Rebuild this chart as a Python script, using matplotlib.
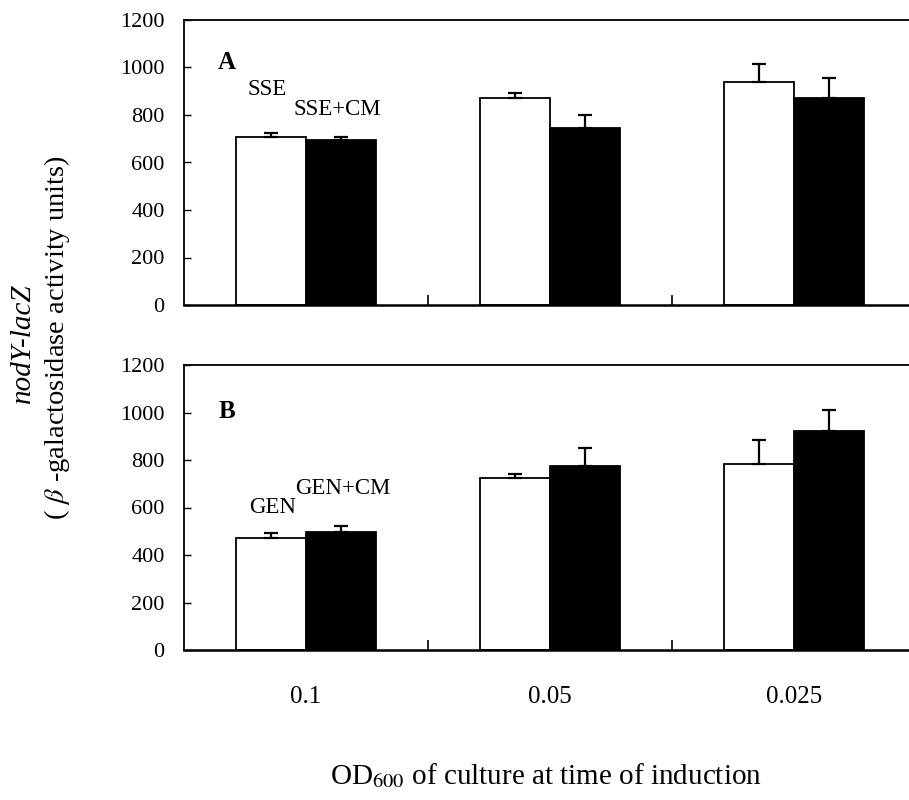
import matplotlib
matplotlib.use("Agg")
import matplotlib.pyplot as plt
import numpy as np

plt.rcParams['font.family'] = ['Liberation Serif', 'DejaVu Serif']
plt.rcParams['mathtext.fontset'] = 'stix'

# OD600 at time of induction
od_labels = ['0.1', '0.05', '0.025']

# panel A: SSE vs SSE+CM
sse = [708, 870, 938]
sse_err = [17, 21, 75]
sse_cm = [695, 744, 870]
sse_cm_err = [11, 56, 85]

# panel B: GEN vs GEN+CM
gen = [470, 723, 782]
gen_err = [24, 17, 102]
gen_cm = [498, 775, 923]
gen_cm_err = [25, 74, 88]

fig = plt.figure(figsize=(9.09, 8), dpi=100)
axA = fig.add_axes([0.2024, 0.61875, 0.8053, 0.35625])
axB = fig.add_axes([0.2024, 0.1875, 0.8053, 0.35625])

x = np.arange(len(od_labels))
w = 0.287


def draw_panel(ax, v1, e1, v2, e2, letter, lab1, lab2, lab_pos):
    ax.bar(x - w / 2, v1, w, color='white', edgecolor='black', linewidth=1.3, zorder=2)
    ax.bar(x + w / 2, v2, w, color='black', edgecolor='black', linewidth=1.3, zorder=2)
    ax.errorbar(x - w / 2, v1, yerr=[np.zeros(len(v1)), e1], fmt='none',
                ecolor='black', elinewidth=1.6, capsize=4.8, capthick=1.6, zorder=3)
    ax.errorbar(x + w / 2, v2, yerr=[np.zeros(len(v2)), e2], fmt='none',
                ecolor='black', elinewidth=1.6, capsize=4.8, capthick=1.6, zorder=3)
    ax.set_xlim(-0.5, 2.5)
    ax.set_ylim(0, 1200)
    ax.set_yticks(np.arange(0, 1201, 200))
    ax.tick_params(axis='y', direction='in', length=5, width=1, pad=14, labelsize=16)
    ax.set_xticks(x)
    ax.set_xticks([0.5, 1.5], minor=True)
    ax.tick_params(axis='x', which='major', length=0, pad=26, labelsize=18)
    ax.tick_params(axis='x', which='minor', direction='in', length=7, width=1.2)
    for s in ax.spines.values():
        s.set_linewidth(1.3)
    ax.spines['bottom'].set_linewidth(1.8)
    ax.text(lab_pos[0][0], lab_pos[0][1], letter, fontsize=18, fontweight='bold',
            ha='center', va='center')
    ax.text(lab_pos[1][0], lab_pos[1][1], lab1, fontsize=16.5, ha='center', va='center')
    ax.text(lab_pos[2][0], lab_pos[2][1], lab2, fontsize=16.5, ha='center', va='center')


draw_panel(axA, sse, sse_err, sse_cm, sse_cm_err, 'A', 'SSE', 'SSE+CM',
           [(-0.325, 1022), (-0.161, 909), (0.129, 825)])
draw_panel(axB, gen, gen_err, gen_cm, gen_cm_err, 'B', 'GEN', 'GEN+CM',
           [(-0.324, 1003), (-0.135, 598), (0.152, 682)])

axA.set_xticklabels([])
axB.set_xticklabels(od_labels)

fig.text(23 / 909, 1 - 343 / 800, 'nodY-lacZ', rotation=90, fontsize=21,
         style='italic', ha='center', va='center')
fig.text(57 / 909, 1 - 338 / 800, r'( $\beta$ -galactosidase activity units)',
         rotation=90, fontsize=20.5, ha='center', va='center')
fig.text(546 / 909, 1 - 776 / 800, r'OD$_{600}$ of culture at time of induction',
         fontsize=21, ha='center', va='center')

fig.savefig('out.png', dpi=100)
